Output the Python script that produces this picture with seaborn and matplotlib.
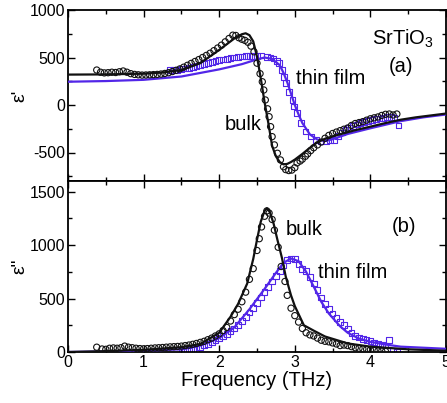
import numpy as np
import pandas as pd
import matplotlib
matplotlib.use("Agg")
import matplotlib.pyplot as plt
from matplotlib.ticker import MultipleLocator
import seaborn as sns

# ---------------- data ----------------
# top panel: epsilon' ; bulk fit (black line)
fit_bulk_re_f = [0.0, 0.5, 1.0, 1.25, 1.5, 1.75, 2.0, 2.1, 2.2, 2.3, 2.35, 2.4, 2.45, 2.5, 2.55,
                 2.6, 2.65, 2.7, 2.75, 2.8, 2.85, 2.9, 2.95, 3.0, 3.1, 3.2, 3.3, 3.4, 3.5, 3.6,
                 3.8, 4.0, 4.2, 4.4, 4.6, 4.8, 5.0]
fit_bulk_re_v = [320, 322, 330, 342, 368, 440, 580, 640, 700, 745, 755, 735, 670, 510, 280,
                 30, -190, -430, -540, -600, -625, -620, -600, -575, -515, -450, -392, -355, -330, -308,
                 -265, -228, -190, -155, -130, -110, -90]
# thin film fit (blue line)
fit_film_re_f = [0.0, 0.5, 1.0, 1.5, 2.0, 2.3, 2.5, 2.6, 2.7, 2.8, 2.85, 2.9, 2.95, 3.0, 3.05, 3.1,
                 3.2, 3.3, 3.4, 3.5, 3.7, 4.0, 4.4, 4.7, 5.0]
fit_film_re_v = [245, 252, 265, 300, 375, 430, 480, 500, 485, 420, 340, 240, 120, 0, -100, -190,
                 -310, -365, -380, -360, -305, -245, -170, -130, -100]
# bulk data (circles)
bulk_re_f = [0.38, 0.43, 0.48, 0.53, 0.58, 0.63, 0.68, 0.73, 0.78, 0.83, 0.88, 0.93, 0.98, 1.03, 1.08,
             1.13, 1.18, 1.23, 1.28, 1.33, 1.38, 1.43, 1.48, 1.53, 1.58, 1.63, 1.68, 1.73, 1.78, 1.83,
             1.88, 1.93, 1.98, 2.03, 2.08, 2.13, 2.18, 2.22, 2.26, 2.30, 2.34, 2.38, 2.42, 2.46, 2.50,
             2.54, 2.57, 2.59, 2.61, 2.64, 2.66, 2.68, 2.70, 2.73, 2.77, 2.81, 2.85, 2.88, 2.92, 2.96,
             3.00, 3.03, 3.07, 3.10, 3.14, 3.17, 3.21, 3.25, 3.30, 3.35, 3.40, 3.45, 3.50, 3.55, 3.60,
             3.65, 3.70, 3.75, 3.80, 3.85, 3.90, 3.95, 4.00, 4.05, 4.10, 4.15, 4.20, 4.25, 4.30, 4.35]
bulk_re_v = [368, 345, 338, 340, 345, 342, 350, 358, 345, 330, 322, 318, 315, 316, 318,
             320, 322, 326, 332, 340, 352, 365, 380, 398, 418, 438, 458, 478, 500, 522,
             545, 572, 600, 630, 665, 700, 735, 732, 708, 692, 680, 660, 620, 560, 440,
             330, 245, 158, 53, -40, -123, -228, -333, -420, -508, -578, -650, -680, -690, -685,
             -660, -610, -590, -570, -540, -515, -480, -450, -420, -390, -350, -320, -300, -285, -270,
             -255, -242, -215, -195, -185, -175, -160, -145, -135, -126, -110, -98, -95, -105, -95]
# thin film data (squares)
film_re_f = [1.35, 1.40, 1.45, 1.50, 1.55, 1.60, 1.65, 1.70, 1.75, 1.80, 1.85, 1.90, 1.95, 2.00, 2.05,
             2.10, 2.15, 2.20, 2.25, 2.30, 2.35, 2.40, 2.45, 2.50, 2.55, 2.63, 2.68, 2.72, 2.76, 2.79,
             2.83, 2.86, 2.88, 2.92, 2.97, 2.99, 3.03, 3.08, 3.14, 3.21, 3.28, 3.34, 3.41, 3.47, 3.52,
             3.57, 3.62, 3.67, 3.72, 3.77, 3.82, 3.87, 3.92, 3.97, 4.02, 4.07, 4.12, 4.17, 4.22, 4.27,
             4.32, 4.37]
film_re_v = [365, 368, 372, 378, 385, 393, 402, 412, 422, 432, 442, 452, 462, 472, 480,
             488, 495, 500, 505, 510, 513, 515, 516, 518, 520, 508, 500, 490, 465, 440,
             368, 298, 228, 140, 53, -17, -88, -193, -280, -333, -368, -385, -385, -375, -370,
             -330, -290, -262, -240, -222, -205, -190, -178, -168, -158, -150, -142, -136, -130, -128,
             -135, -215]

# bottom panel: epsilon''
fit_bulk_im_f = [0.0, 0.5, 1.0, 1.5, 1.75, 2.0, 2.15, 2.25, 2.37, 2.45, 2.5, 2.55, 2.6, 2.63, 2.67,
                 2.72, 2.77, 2.83, 2.88, 2.95, 3.0, 3.12, 3.25, 3.4, 3.7, 4.0, 4.5, 5.0]
fit_bulk_im_v = [0, 8, 20, 45, 75, 180, 330, 450, 640, 870, 1050, 1220, 1320, 1345, 1310,
                 1200, 1050, 880, 706, 530, 430, 250, 200, 145, 80, 50, 25, 12]
fit_film_im_f = [0.0, 0.5, 1.0, 1.5, 1.75, 2.0, 2.2, 2.4, 2.6, 2.75, 2.85, 2.95, 3.05, 3.15, 3.25,
                 3.35, 3.45, 3.6, 3.7, 3.85, 4.0, 4.2, 4.4, 4.7, 5.0]
fit_film_im_v = [0, 5, 12, 25, 60, 130, 230, 400, 590, 740, 834, 875, 850, 750, 612,
                 470, 360, 240, 180, 125, 95, 70, 50, 40, 30]
bulk_im_f = [0.38, 0.45, 0.50, 0.55, 0.60, 0.65, 0.70, 0.75, 0.80, 0.85, 0.90, 0.95, 1.00, 1.05, 1.10,
             1.15, 1.20, 1.25, 1.30, 1.35, 1.40, 1.45, 1.50, 1.55, 1.60, 1.65, 1.70, 1.75, 1.80, 1.85,
             1.90, 1.95, 2.00, 2.05, 2.10, 2.15, 2.20, 2.25, 2.30, 2.35, 2.40, 2.45, 2.50, 2.53, 2.56,
             2.60, 2.63, 2.66, 2.70, 2.73, 2.78, 2.82, 2.87, 2.90, 2.95, 3.00, 3.05, 3.10, 3.15, 3.20,
             3.25, 3.30, 3.35, 3.40, 3.45, 3.50, 3.55, 3.60, 3.65, 3.70, 3.75, 3.80, 3.85, 3.90, 3.95,
             4.00, 4.05, 4.10, 4.15, 4.20]
bulk_im_v = [45, 28, 25, 35, 38, 35, 40, 55, 45, 40, 35, 32, 30, 32, 35,
             38, 40, 42, 45, 48, 50, 52, 55, 60, 65, 72, 80, 90, 100, 115,
             130, 150, 170, 200, 230, 290, 350, 400, 470, 560, 680, 780, 950, 1060, 1170,
             1270, 1320, 1300, 1240, 1140, 980, 800, 660, 530, 410, 340, 280, 220, 180, 160,
             150, 130, 110, 100, 95, 85, 75, 60, 65, 60, 50, 40, 35, 30, 25,
             20, 15, 10, 8, 5]
film_im_f = [1.50, 1.55, 1.60, 1.65, 1.70, 1.75, 1.80, 1.85, 1.90, 1.95, 2.00, 2.05, 2.10, 2.15, 2.20,
             2.25, 2.30, 2.35, 2.40, 2.45, 2.50, 2.55, 2.60, 2.65, 2.70, 2.75, 2.80, 2.85, 2.90, 2.95,
             3.00, 3.05, 3.10, 3.15, 3.20, 3.25, 3.30, 3.35, 3.40, 3.45, 3.50, 3.55, 3.60, 3.65, 3.70,
             3.75, 3.80, 3.85, 3.90, 3.95, 4.00, 4.05, 4.10, 4.15, 4.20, 4.25, 4.30, 4.35]
film_im_v = [3, 8, 12, 20, 30, 45, 60, 75, 90, 110, 130, 150, 170, 195, 220,
             255, 290, 330, 370, 415, 460, 510, 560, 610, 660, 710, 760, 810, 860, 875,
             870, 820, 780, 760, 700, 640, 580, 510, 450, 400, 360, 320, 280, 250, 220,
             180, 150, 135, 120, 110, 100, 90, 80, 70, 60, 115, 10, 0]

# ---------------- style ----------------
sns.set_style("ticks")
plt.rcParams['font.family'] = ['Liberation Sans', 'DejaVu Sans']
plt.rcParams['mathtext.fontset'] = 'custom'
plt.rcParams['mathtext.rm'] = 'Liberation Sans'
plt.rcParams['mathtext.it'] = 'Liberation Sans'
plt.rcParams['axes.unicode_minus'] = False
plt.rcParams['text.color'] = 'black'
plt.rcParams['axes.labelcolor'] = 'black'
plt.rcParams['axes.edgecolor'] = 'black'
plt.rcParams['xtick.color'] = 'black'
plt.rcParams['ytick.color'] = 'black'

BLUE = '#5226E8'
BLACK = '#111111'

fig = plt.figure(figsize=(4.47, 4.03), dpi=100)
ax1 = fig.add_axes([68 / 447, 1 - 181 / 403, 378 / 447, 171 / 403])
ax2 = fig.add_axes([68 / 447, 1 - 352 / 403, 378 / 447, 171 / 403], sharex=ax1)


def draw(ax, ff, fv, bf, bv, mf, mv, df, dv):
    sns.scatterplot(x=mf, y=mv, ax=ax, marker='s', s=17, facecolors='none',
                    edgecolor=BLUE, linewidth=0.8, zorder=2)
    sns.lineplot(x=ff, y=fv, ax=ax, color=BLUE, lw=1.6, sort=False, estimator=None, zorder=3)
    sns.scatterplot(x=df, y=dv, ax=ax, marker='o', s=20, facecolors='none',
                    edgecolor=BLACK, linewidth=0.8, zorder=4)
    sns.lineplot(x=bf, y=bv, ax=ax, color=BLACK, lw=1.6, sort=False, estimator=None, zorder=5)


draw(ax1, fit_film_re_f, fit_film_re_v, fit_bulk_re_f, fit_bulk_re_v,
     film_re_f, film_re_v, bulk_re_f, bulk_re_v)
draw(ax2, fit_film_im_f, fit_film_im_v, fit_bulk_im_f, fit_bulk_im_v,
     film_im_f, film_im_v, bulk_im_f, bulk_im_v)

for ax in (ax1, ax2):
    ax.set_xlim(0, 5)
    ax.xaxis.set_major_locator(MultipleLocator(1))
    ax.xaxis.set_minor_locator(MultipleLocator(0.5))
    ax.yaxis.set_minor_locator(MultipleLocator(250))
    ax.tick_params(which='both', direction='in', top=True, right=True, labelsize=11.5,
                   width=1.0, colors='black', labelcolor='black')
    ax.tick_params(which='major', length=5, pad=2)
    ax.tick_params(which='minor', length=3)
    for s in ax.spines.values():
        s.set_linewidth(1.3)
        s.set_color('black')
    ax.set_xlabel('')
    ax.set_ylabel('')

ax1.set_ylim(-800, 1000)
ax1.set_yticks([-500, 0, 500, 1000])
ax1.tick_params(labelbottom=False)
ax2.set_ylim(0, 1600)
ax2.set_yticks([0, 500, 1000, 1500])
ax2.set_xticks([0, 1, 2, 3, 4, 5])

ax1.set_ylabel("ε'", fontsize=14, color='black')
ax2.set_ylabel('ε"', fontsize=14, color='black')
ax1.yaxis.set_label_coords(-0.105, 0.5)
ax2.yaxis.set_label_coords(-0.105, 0.5)
ax2.set_xlabel('Frequency (THz)', fontsize=14.5, labelpad=1, color='black')

tk = dict(fontsize=14.5, ha='center', va='center', color='black')
ax1.text(4.43, 700, r'SrTiO$_3$', **tk)
ax1.text(4.40, 400, '(a)', **tk)
ax1.text(3.47, 283, 'thin film', **tk)
ax1.text(2.32, -200, 'bulk', **tk)
ax2.text(3.12, 1150, 'bulk', **tk)
ax2.text(4.45, 1170, '(b)', **tk)
ax2.text(3.76, 740, 'thin film', **tk)

fig.savefig('out.png', dpi=100)
